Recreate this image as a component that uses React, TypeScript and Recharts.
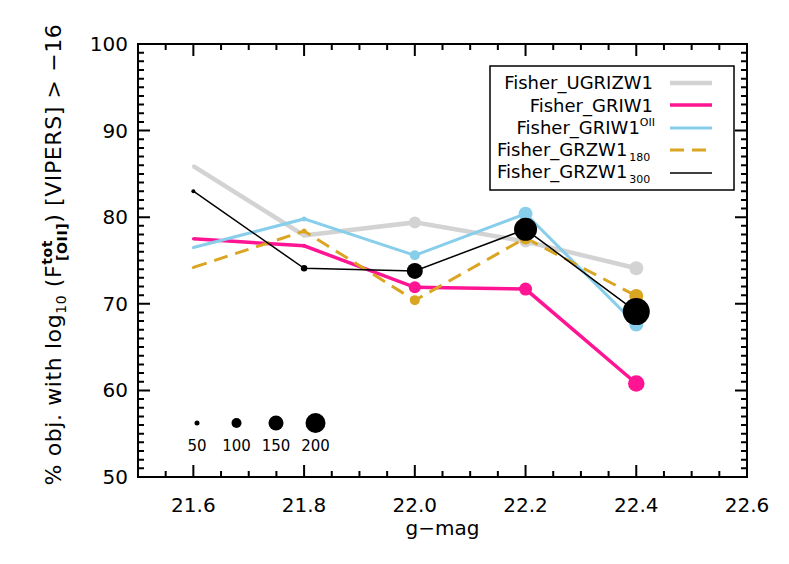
import React from 'react';
import { LineChart, Line, XAxis, YAxis, ReferenceArea } from 'recharts';

// g-mag bins
const mags = [21.6, 21.8, 22.0, 22.2, 22.4];

// % of objects per bin
const ugrizw1 = [85.9, 77.9, 79.4, 77.2, 74.1];
const griw1 = [77.5, 76.7, 71.9, 71.7, 60.8];
const griw1Oii = [76.5, 79.8, 75.6, 80.4, 67.6];
const grzw1_180 = [74.2, 78.4, 70.4, 77.6, 70.9];
const grzw1_300 = [83.0, 74.1, 73.8, 78.6, 69.1];

// number of objects per bin (sets the symbol size)
const ugrizw1N = [30, 40, 120, 120, 140];
const griw1N = [30, 40, 120, 130, 165];
const griw1OiiN = [30, 50, 100, 140, 140];
const grzw1_180N = [30, 50, 100, 130, 140];
const grzw1_300N = [40, 65, 160, 230, 270];

const sizeKey = [50, 100, 150, 200];

const X_DOMAIN = [21.5, 22.6];
const Y_DOMAIN = [50, 100];
const xMajor = [21.6, 21.8, 22.0, 22.2, 22.4, 22.6];
const xTicks = [
  21.5, 21.55, 21.6, 21.65, 21.7, 21.75, 21.8, 21.85, 21.9, 21.95, 22.0, 22.05,
  22.1, 22.15, 22.2, 22.25, 22.3, 22.35, 22.4, 22.45, 22.5, 22.55, 22.6,
];
const yMajor = [50, 60, 70, 80, 90, 100];
const yTicks = Array.from({ length: 51 }, (_, i) => 50 + i);

const FONT = '"DejaVu Sans", sans-serif';
const W = 789;
const H = 564;
const M = { top: 44, right: 42, bottom: 23, left: 20 };
const X_AXIS_H = 64;
const Y_AXIS_W = 118;
const PLOT_X = M.left + Y_AXIS_W;
const PLOT_Y = M.top;
const PLOT_W = W - M.left - M.right - Y_AXIS_W;
const PLOT_H = H - M.top - M.bottom - X_AXIS_H;

// same linear mapping the chart uses, for the frame tick marks
const px = (v: number) => PLOT_X + ((v - X_DOMAIN[0]) / (X_DOMAIN[1] - X_DOMAIN[0])) * PLOT_W;
const py = (v: number) => PLOT_Y + ((Y_DOMAIN[1] - v) / (Y_DOMAIN[1] - Y_DOMAIN[0])) * PLOT_H;

const radius = (n: number) => n / 20;

const build = (values: number[], counts: number[]) =>
  mags.map((m, i) => ({ x: m, y: values[i], n: counts[i] }));

const SERIES = [
  { id: 'ugrizw1', color: '#d3d3d3', width: 4.5, dash: undefined, data: build(ugrizw1, ugrizw1N) },
  { id: 'griw1', color: '#ff1493', width: 3.5, dash: undefined, data: build(griw1, griw1N) },
  { id: 'griw1oii', color: '#87ceeb', width: 3, dash: undefined, data: build(griw1Oii, griw1OiiN) },
  { id: 'grzw1_180', color: '#daa520', width: 3, dash: '14 8', data: build(grzw1_180, grzw1_180N) },
  { id: 'grzw1_300', color: '#000000', width: 1.5, dash: undefined, data: build(grzw1_300, grzw1_300N) },
];

const isMajor = (list: number[], v: number) => list.some((m) => Math.abs(m - v) < 1e-6);

// tick marks as one path each side
const xTickPath = xTicks
  .map((v) => {
    const len = isMajor(xMajor, v) ? 12 : 6;
    const x = px(v).toFixed(2);
    return `M${x},${PLOT_Y + PLOT_H}V${PLOT_Y + PLOT_H - len}M${x},${PLOT_Y}V${PLOT_Y + len}`;
  })
  .join('');
const yTickPath = yTicks
  .map((v) => {
    const len = isMajor(yMajor, v) ? 12 : 6;
    const y = py(v).toFixed(2);
    return `M${PLOT_X},${y}H${PLOT_X + len}M${PLOT_X + PLOT_W},${y}H${PLOT_X + PLOT_W - len}`;
  })
  .join('');

const XTick = (p: any) => (
  <text x={p.x} y={p.y + 35} textAnchor="middle" fontSize={20} fontFamily={FONT} fill="#000">
    {p.payload.value.toFixed(1)}
  </text>
);

const YTick = (p: any) => (
  <text x={p.x - 10} y={p.y + 7} textAnchor="end" fontSize={20} fontFamily={FONT} fill="#000">
    {p.payload.value}
  </text>
);

const YLabel = (props: any) => {
  const vb = props.viewBox || { x: 0, y: 0, width: 0, height: 0 };
  const cx = vb.x + 41;
  const cy = vb.y + vb.height / 2 - 6;
  return (
    <text
      x={cx}
      y={cy}
      transform={`rotate(-90, ${cx}, ${cy})`}
      textAnchor="middle"
      fontFamily={FONT}
      fontSize={22}
      letterSpacing={0.6}
      fill="#000"
    >
      <tspan>% obj. with log</tspan>
      <tspan fontSize={14} dy={5}>10</tspan>
      <tspan dy={-5}> (F</tspan>
      <tspan fontSize={14} fontWeight="bold" dy={-9}>tot</tspan>
      <tspan fontSize={14} fontWeight="bold" dx={-21} dy={15}>[OII]</tspan>
      <tspan dy={-6}>) [VIPERS] &gt; −16</tspan>
    </text>
  );
};

export default function App() {
  return (
    <div style={{ position: 'absolute', left: 0, top: 0, width: W, height: H, background: '#fff' }}>
      <LineChart width={W} height={H} margin={M}>
        <XAxis
          xAxisId="x"
          type="number"
          dataKey="x"
          domain={X_DOMAIN}
          allowDataOverflow
          ticks={xMajor}
          interval={0}
          height={X_AXIS_H}
          tickSize={0}
          tickMargin={0}
          tick={(p: any) => <XTick {...p} />}
          axisLine={false}
          tickLine={false}
          label={{ value: 'g−mag', position: 'insideBottom', offset: 6, fontSize: 20, fill: '#000', fontFamily: FONT }}
        />
        <YAxis
          yAxisId="y"
          type="number"
          domain={Y_DOMAIN}
          allowDataOverflow
          ticks={yMajor}
          interval={0}
          width={Y_AXIS_W}
          tickSize={0}
          tickMargin={0}
          tick={(p: any) => <YTick {...p} />}
          axisLine={false}
          tickLine={false}
          label={(p: any) => <YLabel {...p} />}
        />
        <ReferenceArea
          xAxisId="x"
          yAxisId="y"
          x1={X_DOMAIN[0]}
          x2={X_DOMAIN[1]}
          y1={Y_DOMAIN[0]}
          y2={Y_DOMAIN[1]}
          fill="none"
          fillOpacity={0}
          stroke="#000"
          strokeWidth={2}
          ifOverflow="visible"
        />
        {SERIES.map((s) => (
          <Line
            key={s.id}
            data={s.data}
            dataKey="y"
            xAxisId="x"
            yAxisId="y"
            type="linear"
            stroke={s.color}
            strokeWidth={s.width}
            strokeDasharray={s.dash}
            isAnimationActive={false}
            activeDot={false}
            dot={(p: any) => (
              <circle
                key={`${s.id}-${p.index}`}
                cx={p.cx}
                cy={p.cy}
                r={radius(p.payload.n)}
                fill={s.color}
                stroke="none"
              />
            )}
          />
        ))}
      </LineChart>

      <svg
        width={W}
        height={H}
        style={{ position: 'absolute', left: 0, top: 0, pointerEvents: 'none' }}
        fontFamily={FONT}
      >
        {/* inward tick marks on all four sides of the frame */}
        <path d={xTickPath} stroke="#000" strokeWidth={2} fill="none" />
        <path d={yTickPath} stroke="#000" strokeWidth={2} fill="none" />

        {/* series legend */}
        <rect x={490} y={66} width={244} height={124} fill="#fff" stroke="#000" strokeWidth={1.5} />
        <text x={653} y={89} fontSize={18} textAnchor="end">Fisher_UGRIZW1</text>
        <line x1={670} x2={712} y1={83} y2={83} stroke="#d3d3d3" strokeWidth={4.5} />
        <text x={653} y={112} fontSize={18} textAnchor="end">Fisher_GRIW1</text>
        <line x1={670} x2={712} y1={105} y2={105} stroke="#ff1493" strokeWidth={3.5} />
        <text x={655} y={134} fontSize={18} textAnchor="end">
          Fisher_GRIW1<tspan fontSize={11} dy={-8}>OII</tspan>
        </text>
        <line x1={670} x2={712} y1={128} y2={128} stroke="#87ceeb" strokeWidth={3} />
        <text x={497} y={156} fontSize={18}>
          Fisher_GRZW1<tspan fontSize={11} dx={2} dy={5}>180</tspan>
        </text>
        <line x1={670} x2={712} y1={150} y2={150} stroke="#daa520" strokeWidth={3} strokeDasharray="14 8" />
        <text x={497} y={178} fontSize={18}>
          Fisher_GRZW1<tspan fontSize={11} dx={2} dy={5}>300</tspan>
        </text>
        <line x1={670} x2={712} y1={173} y2={173} stroke="#000" strokeWidth={1.5} />

        {/* symbol size key */}
        {sizeKey.map((n, i) => (
          <g key={n}>
            <circle cx={197 + i * 39.5} cy={423} r={radius(n)} fill="#000" />
            <text x={197 + i * 39.5} y={451} fontSize={15} textAnchor="middle">{n}</text>
          </g>
        ))}
      </svg>
    </div>
  );
}
